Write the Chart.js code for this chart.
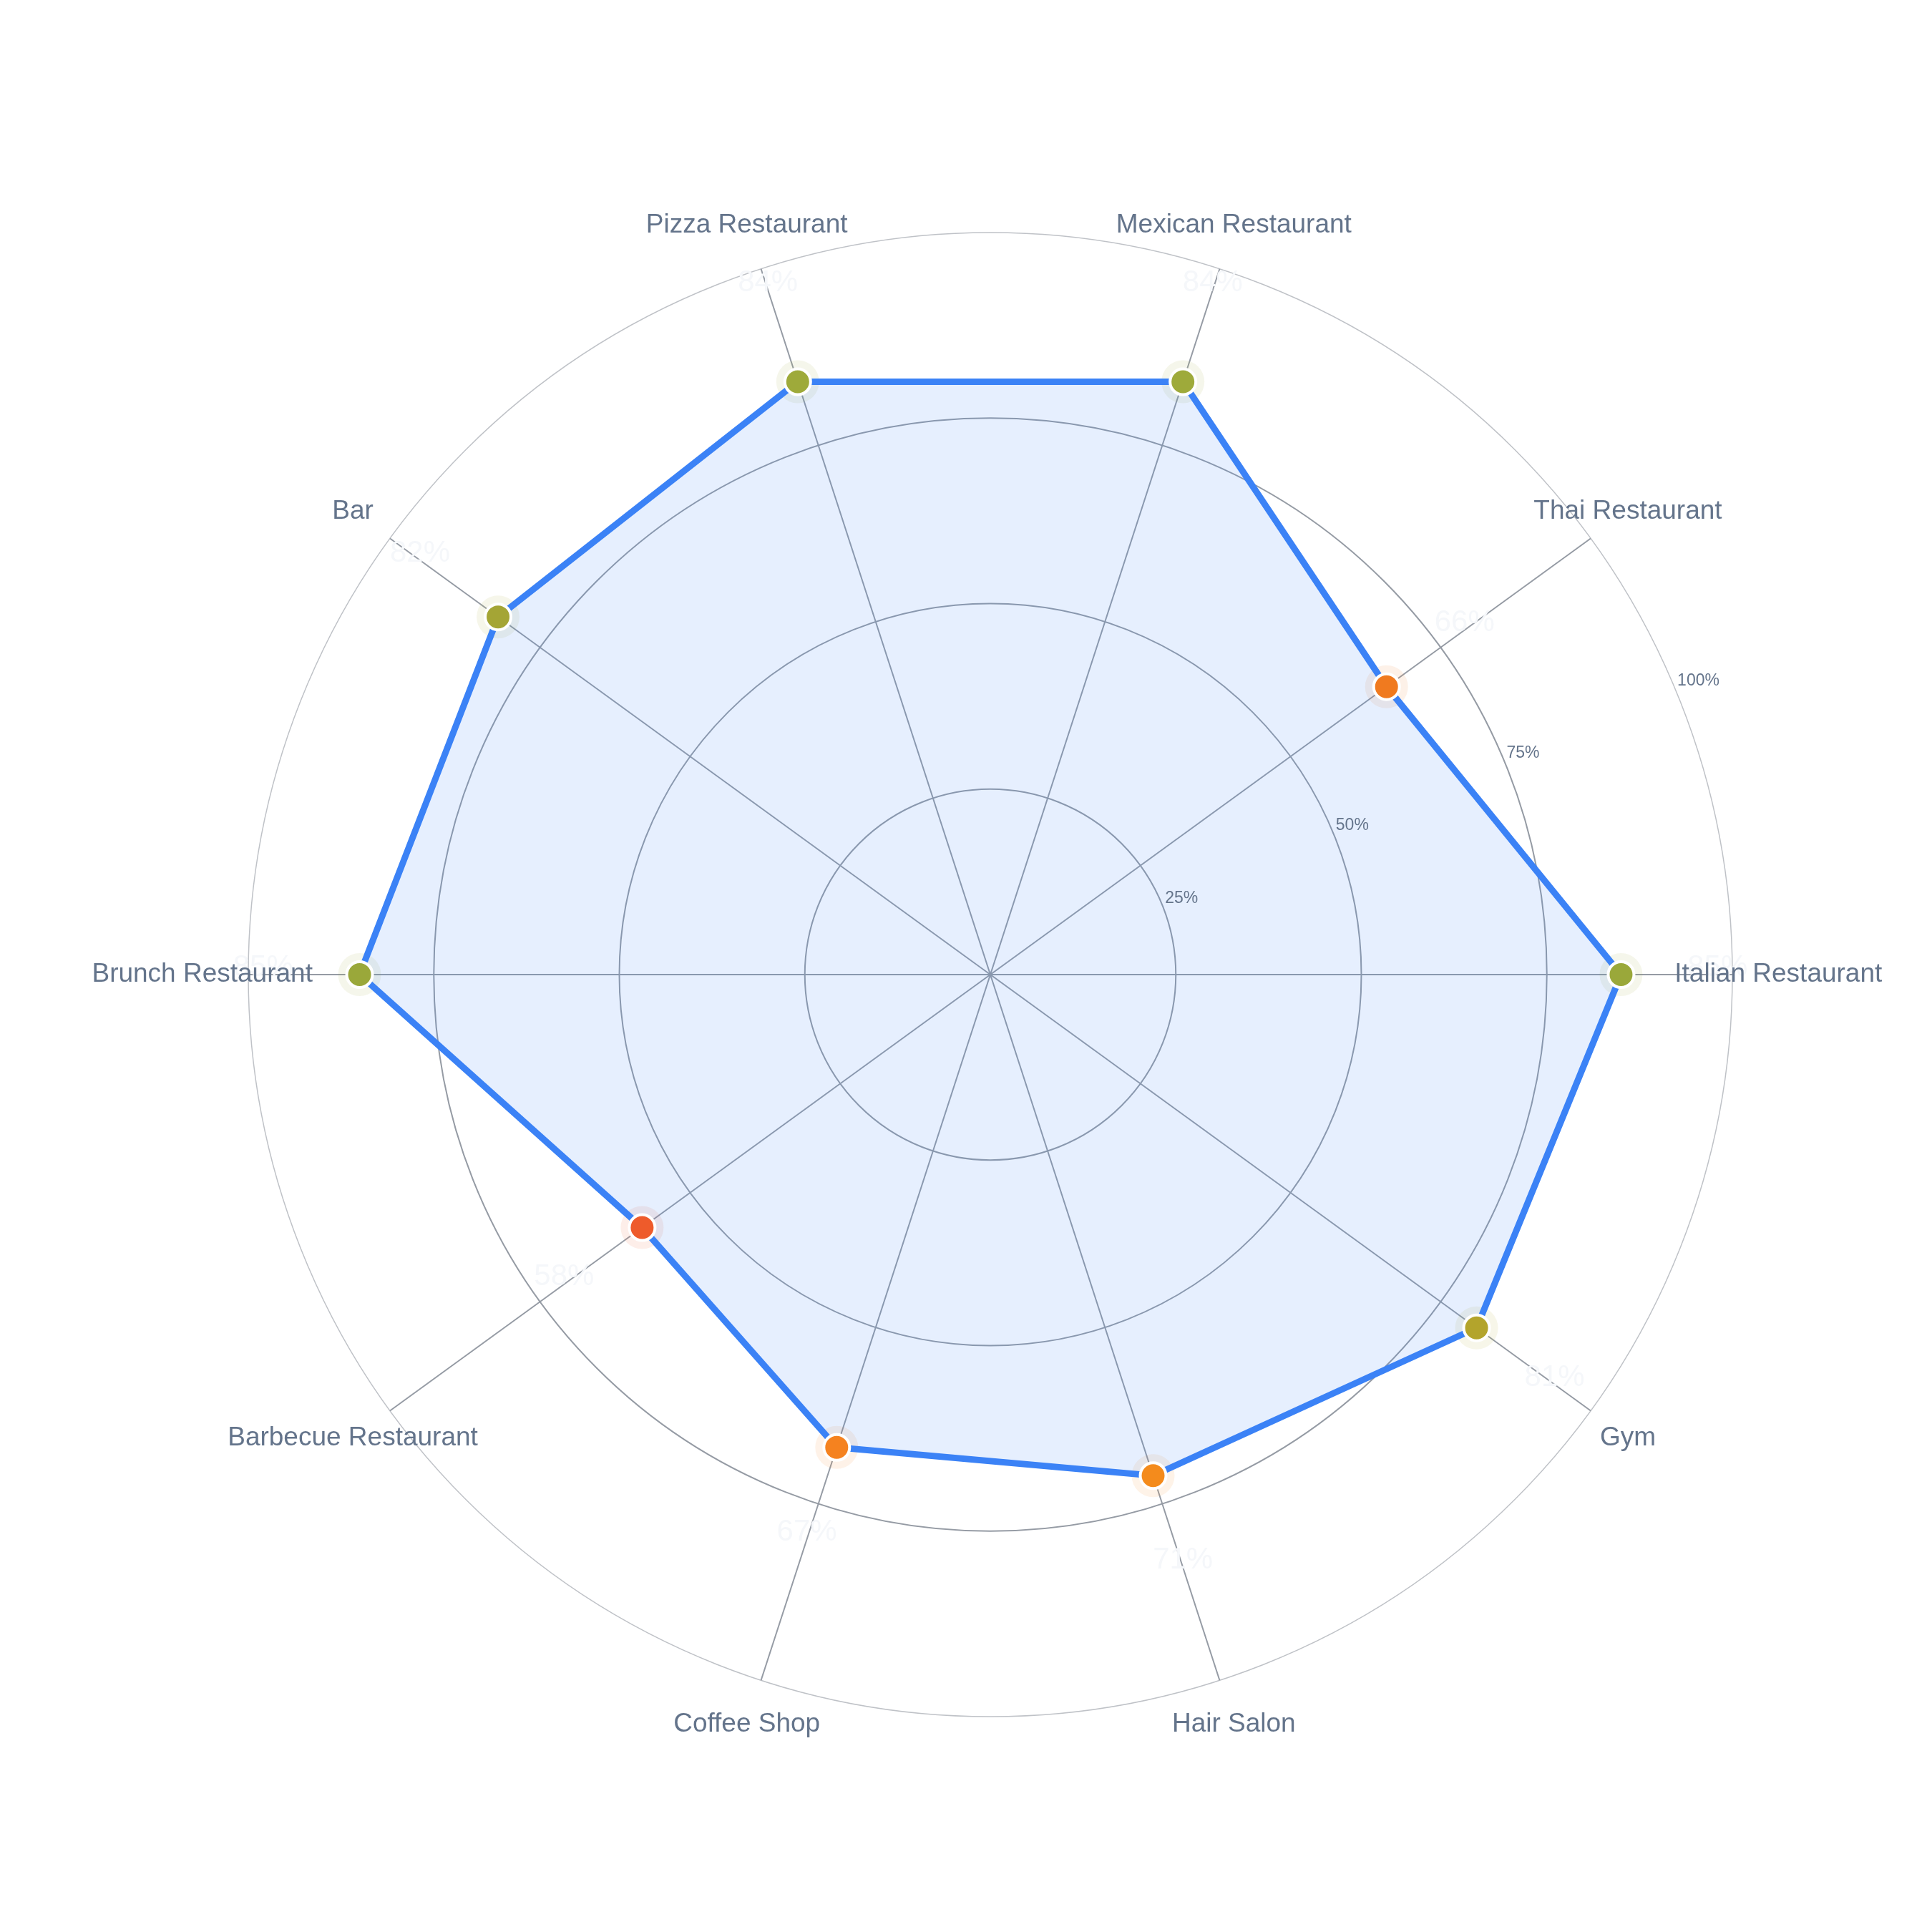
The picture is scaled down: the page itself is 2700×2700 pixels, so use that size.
<!DOCTYPE html>
<html>
<head>
<meta charset="utf-8">
<title>Radar</title>
<script src="https://cdn.jsdelivr.net/npm/chart.js@4.4.1/dist/chart.umd.min.js"></script>
<style>
  html, body { margin: 0; padding: 0; background: #ffffff; }
  #wrap { width: 2700px; height: 2700px; }
</style>
</head>
<body>
<div id="wrap"><canvas id="radar" width="2700" height="2700"></canvas></div>
<script>
// categories in clockwise order, starting at the right (east) spoke
const categories = [
  'Italian Restaurant', 'Gym', 'Hair Salon', 'Coffee Shop', 'Barbecue Restaurant',
  'Brunch Restaurant', 'Bar', 'Pizza Restaurant', 'Mexican Restaurant', 'Thai Restaurant'
];
const shares = [85, 81, 71, 67, 58, 85, 82, 84, 84, 66];
const tickValues = [25, 50, 75, 100];

// marker colours, one per category (style, not data)
const pointColors = [
  '#9aa83a', '#b3a42c', '#f48b1c', '#f5821f', '#ee5b2b',
  '#9aa83a', '#a4a535', '#9eaa3a', '#9eaa3a', '#f07a1f'
];

function withAlpha(hex, a) {
  const n = parseInt(hex.slice(1), 16);
  return 'rgba(' + (n >> 16) + ',' + ((n >> 8) & 255) + ',' + (n & 255) + ',' + a + ')';
}

const FONT = '"Liberation Sans", Arial, Helvetica, sans-serif';

// draws the category names, faint value labels and the % tick labels
const overlayPlugin = {
  id: 'overlay',
  afterDatasetsDraw(chart) {
    const scale = chart.scales.r;
    const ctx = chart.ctx;
    ctx.save();
    ctx.textAlign = 'center';
    ctx.textBaseline = 'middle';

    // faint value labels just outside each point
    ctx.font = '42px ' + FONT;
    ctx.fillStyle = '#f5f7fa';
    shares.forEach((v, i) => {
      const p = scale.getPointPosition(i, scale.getDistanceFromCenterForValue(v + 13));
      ctx.fillText(v + '%', p.x, p.y - 10);
    });

    // category labels, centred beyond the outer ring
    ctx.font = '37px ' + FONT;
    ctx.fillStyle = '#64748b';
    categories.forEach((c, i) => {
      const p = scale.getPointPosition(i, scale.drawingArea * 1.062);
      ctx.fillText(c, p.x, p.y);
    });

    // radial tick labels along a slanted ray
    ctx.font = '23px ' + FONT;
    ctx.textAlign = 'left';
    const a = 23 * Math.PI / 180;
    tickValues.forEach(t => {
      const d = scale.getDistanceFromCenterForValue(t) + 6;
      ctx.fillText(t + '%', scale.xCenter + Math.cos(a) * d, scale.yCenter - Math.sin(a) * d - 3);
    });
    ctx.restore();
  }
};

const ctx = document.getElementById('radar').getContext('2d');
new Chart(ctx, {
  type: 'radar',
  data: {
    labels: categories,
    datasets: [
      {
        // main series
        label: 'Share',
        data: shares,
        order: 1,
        borderColor: '#3b82f6',
        borderWidth: 9,
        backgroundColor: 'rgba(59,130,246,0.13)',
        fill: true,
        tension: 0,
        pointRadius: 18,
        pointBorderWidth: 4,
        pointBorderColor: '#ffffff',
        pointBackgroundColor: pointColors,
        pointHoverRadius: 18
      },
      {
        // soft halo behind each marker
        label: 'halo',
        data: shares,
        order: 2,
        showLine: false,
        fill: false,
        borderWidth: 0,
        pointRadius: 30,
        pointBorderWidth: 0,
        pointBackgroundColor: pointColors.map(c => withAlpha(c, 0.1)),
        pointHoverRadius: 30
      }
    ]
  },
  options: {
    responsive: false,
    devicePixelRatio: 1,
    animation: false,
    layout: { padding: { left: 347, right: 278, top: 325, bottom: 300 } },
    plugins: {
      legend: { display: false },
      tooltip: { enabled: false }
    },
    scales: {
      r: {
        min: 0,
        max: 100,
        startAngle: 90,
        ticks: { stepSize: 25, display: false },
        pointLabels: { display: false },
        grid: {
          circular: true,
          color: c => (c.tick && c.tick.value === 100) ? '#bfc2c7' : '#959ba4',
          lineWidth: c => (c.tick && c.tick.value === 100) ? 1.5 : 2
        },
        angleLines: { color: '#959ba4', lineWidth: 2 }
      }
    }
  },
  plugins: [overlayPlugin]
});
</script>
</body>
</html>
